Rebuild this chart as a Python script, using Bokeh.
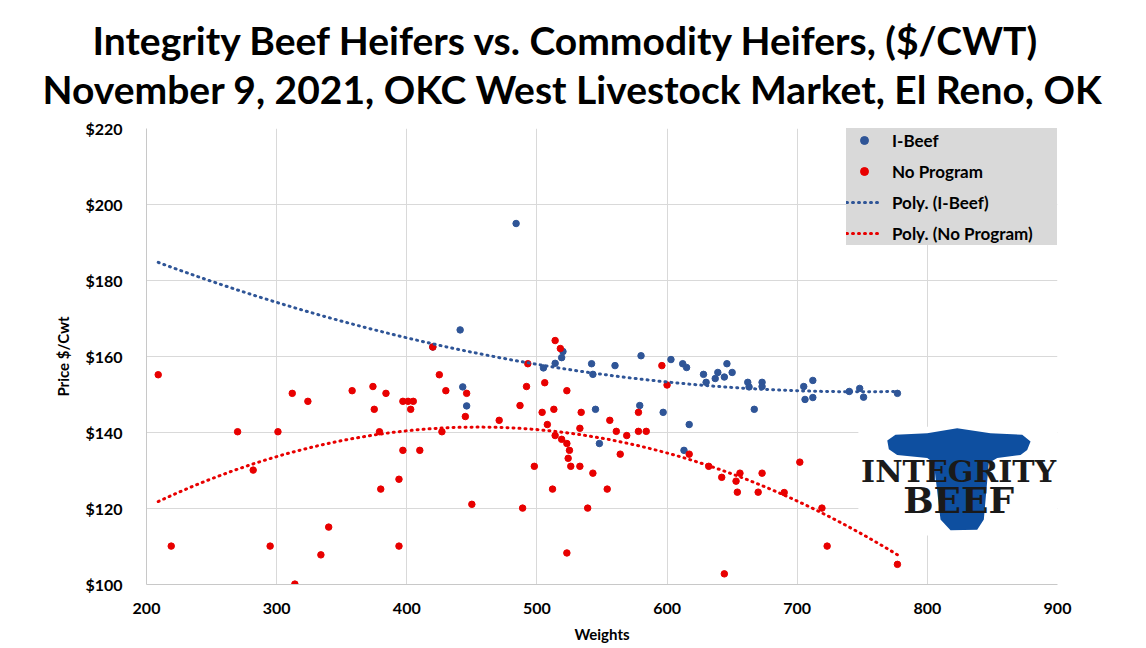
import numpy as np
from bokeh.core.properties import value
from bokeh.embed import file_html
from bokeh.models import Legend, LegendItem, PrintfTickFormatter, Title
from bokeh.plotting import figure
from bokeh.resources import INLINE

# I-Beef heifers (weight, $/cwt)
ibeef_weight = [420, 441, 443, 446, 484, 505, 514, 519, 520, 542, 543, 545, 548,
                560, 580, 579, 597, 603, 612, 615, 617, 613, 628, 630, 637, 639,
                644, 646, 650, 662, 663, 673, 673, 667, 705, 712, 706, 712, 740,
                748, 751, 777]
ibeef_price = [162.5, 167.0, 152.0, 147.0, 195.0, 157.0, 158.2, 159.7, 161.3, 158.1,
               155.3, 146.1, 137.1, 157.6, 160.2, 147.1, 145.3, 159.2, 158.1, 157.1,
               142.1, 135.3, 155.3, 153.2, 154.2, 155.8, 154.6, 158.1, 155.8, 153.2,
               152.0, 153.2, 152.1, 146.1, 152.1, 153.7, 148.7, 149.2, 150.8, 151.6,
               149.3, 150.3]

# commodity heifers, no program
noprog_weight = [209, 219, 270, 282, 295, 301, 312, 314, 324, 334, 340, 358, 374,
                 375, 379, 380, 384, 394, 394, 397, 397, 401, 405, 403, 410, 420,
                 425, 427, 430, 445, 446, 450, 471, 487, 489, 492, 493, 498, 504,
                 506, 508, 513, 512, 514, 514, 518, 519, 523, 523, 523, 524, 525,
                 526, 533, 533, 534, 539, 543, 554, 556, 561, 564, 569, 578, 578,
                 584, 596, 600, 617, 632, 642, 644, 653, 654, 656, 670, 673, 690,
                 702, 719, 723, 777]
noprog_price = [155.2, 110.1, 140.2, 130.1, 110.1, 140.2, 150.3, 100.1, 148.2, 107.8,
                115.1, 151.0, 152.1, 146.1, 140.2, 125.1, 150.3, 127.7, 110.1, 135.3,
                148.2, 148.2, 148.2, 146.1, 135.3, 162.5, 155.2, 140.2, 151.0, 144.2,
                150.3, 121.1, 143.2, 147.1, 120.1, 152.1, 158.1, 131.1, 145.3, 153.1,
                142.1, 146.1, 125.1, 164.2, 139.2, 162.1, 138.2, 137.1, 151.0, 108.3,
                133.2, 135.3, 131.1, 131.1, 141.1, 145.3, 120.1, 129.3, 125.1, 143.2,
                140.3, 134.3, 139.2, 145.3, 140.3, 140.3, 157.6, 152.5, 134.3, 131.1,
                128.2, 102.8, 127.2, 124.3, 129.3, 124.3, 129.3, 124.2, 132.2, 120.1,
                110.1, 105.3]

x_ticks = [200, 300, 400, 500, 600, 700, 800, 900]
y_ticks = [100, 120, 140, 160, 180, 200, 220]

title_lines = ["Integrity Beef Heifers vs. Commodity Heifers, ($/CWT)",
               "November 9, 2021, OKC West Livestock Market, El Reno, OK"]

BLUE = "#2F5597"
RED = "#E80000"
FONT = "Lato"

p = figure(width=1140, height=645, x_range=(200, 900), y_range=(100, 220),
           output_backend="svg", toolbar_location=None,
           min_border_left=146, min_border_right=83, min_border_top=128, min_border_bottom=60)
p.outline_line_color = None

# axes and grid
p.xaxis.ticker = x_ticks
p.yaxis.ticker = y_ticks
p.xgrid.ticker = x_ticks
p.ygrid.ticker = y_ticks
p.grid.grid_line_color = "#d9d9d9"
p.yaxis.formatter = PrintfTickFormatter(format="$%d")
for ax in [p.xaxis[0], p.yaxis[0]]:
    ax.axis_line_color = "#c8c8c8"
    ax.major_tick_line_color = None
    ax.minor_tick_line_color = None
    ax.major_label_text_font = FONT
    ax.major_label_text_font_style = "bold"
    ax.major_label_text_font_size = "16px"
    ax.major_label_text_color = "black"
    ax.axis_label_text_font = FONT
    ax.axis_label_text_font_style = "bold"
    ax.axis_label_text_font_size = "15px"
    ax.axis_label_text_color = "black"
p.xaxis.axis_label = "Weights"
p.yaxis.axis_label = "Price $/Cwt"
p.xaxis.major_label_standoff = 12
p.yaxis.major_label_standoff = 18
p.xaxis.axis_label_standoff = 8
p.yaxis.axis_label_standoff = 10

# logo block (bottom right)
logo_x = [769.2, 775.5, 799.9, 822.9, 848.5, 872.9, 879.3, 876.7, 871.6, 853.7,
          847.2, 843.4, 838.3, 817.8, 810.1, 805.0, 799.9, 776.8, 770.4]
logo_y = [137.9, 139.4, 139.8, 141.1, 139.8, 139.4, 137.6, 135.4, 134.1, 133.3,
          132.0, 117.1, 114.4, 114.3, 117.1, 132.0, 133.3, 134.1, 135.6]
p.quad(left=[747], right=[900], bottom=[112.9], top=[141.5], fill_color="white", line_color=None)
p.patch(logo_x, logo_y, fill_color="#0E4FA0", line_color=None)
p.text(x=[824], y=[129.8], text=["INTEGRITY"], text_font=value("DejaVu Serif"),
       text_font_style="bold", text_font_size="30px", text_align="center",
       text_baseline="middle", text_color="#1a1a1a")
p.text(x=[824], y=[122.3], text=["BEEF"], text_font=value("DejaVu Serif"),
       text_font_style="bold", text_font_size="36px", text_align="center",
       text_baseline="middle", text_color="#1a1a1a")

# polynomial (order 2) trendlines, fitted to the points
span = np.linspace(min(noprog_weight + ibeef_weight), max(noprog_weight + ibeef_weight), 150)
fit_b = np.polyval(np.polyfit(ibeef_weight, ibeef_price, 2), span)
fit_r = np.polyval(np.polyfit(noprog_weight, noprog_price, 2), span)

r_b = p.scatter(ibeef_weight, ibeef_price, size=6.5, color=BLUE)
r_r = p.scatter(noprog_weight, noprog_price, size=6.5, color=RED)
t_b = p.line(span, fit_b, line_color=BLUE, line_width=3, line_dash="1 5", line_cap="round")
t_r = p.line(span, fit_r, line_color=RED, line_width=3, line_dash="1 5", line_cap="round")

legend = Legend(items=[LegendItem(label="I-Beef", renderers=[r_b]),
                       LegendItem(label="No Program", renderers=[r_r]),
                       LegendItem(label="Poly. (I-Beef)", renderers=[t_b]),
                       LegendItem(label="Poly. (No Program)", renderers=[t_r])],
                location="top_right", margin=0, padding=4, spacing=7,
                label_height=24, glyph_height=20, glyph_width=36, label_standoff=10,
                label_width=165, background_fill_color="#d9d9d9", background_fill_alpha=1,
                border_line_color=None, label_text_font=FONT, label_text_font_style="bold",
                label_text_font_size="17px", label_text_color="black")
p.add_layout(legend)

# two-line title; first one added sits next to the frame
for text, off, stand in [(title_lines[1], -104, 34), (title_lines[0], -54, -32)]:
    p.add_layout(Title(text=text, align="left", offset=off, standoff=stand,
                       text_font=FONT, text_font_style="bold", text_font_size="39px",
                       text_color="black"), "above")

open("out.html", "w").write(file_html(p, INLINE))
